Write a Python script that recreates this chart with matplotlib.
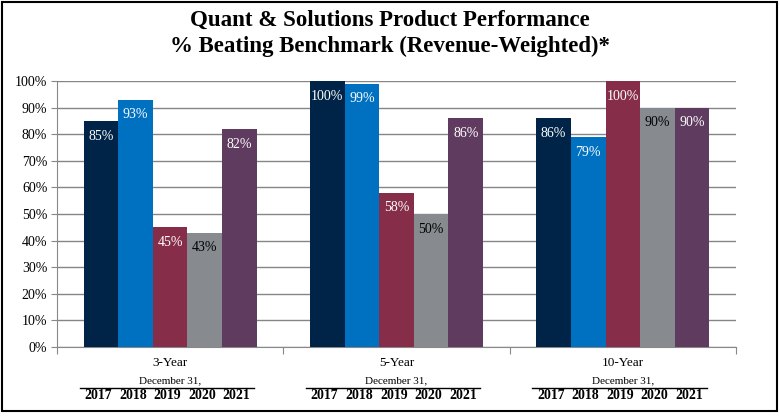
import numpy as np
import matplotlib
matplotlib.use("Agg")
import matplotlib.pyplot as plt
from matplotlib.patches import Rectangle
from matplotlib.lines import Line2D

# data
periods = ["3-Year", "5-Year", "10-Year"]
years = ["2017", "2018", "2019", "2020", "2021"]
pct_2017 = [85, 100, 86]
pct_2018 = [93, 99, 79]
pct_2019 = [45, 58, 100]
pct_2020 = [43, 50, 90]
pct_2021 = [82, 86, 90]
series = [pct_2017, pct_2018, pct_2019, pct_2020, pct_2021]

colors = ["#002448", "#0070C0", "#862D4A", "#878B8F", "#5F3B5F"]
label_colors = ["white", "white", "white", "black", "white"]

plt.rcParams["font.family"] = ["Liberation Serif", "DejaVu Serif"]

fig = plt.figure(figsize=(7.8, 4.16), dpi=100)
ax = fig.add_axes([57 / 780, 1 - 347 / 416, 679 / 780, 266 / 416])

bw = 0.153
x = np.arange(len(periods))
for i, vals in enumerate(series):
    xs = x + (i - 2) * bw
    ax.bar(xs, vals, width=bw, color=colors[i], zorder=3)
    for xx, v in zip(xs, vals):
        ax.annotate(f"{v}%", (xx, v), xytext=(0, -11), textcoords="offset points",
                    ha="center", va="center", color=label_colors[i], fontsize=10, zorder=4)
    for xx in xs:
        ax.text(xx - 0.012, -0.184, years[i], transform=ax.get_xaxis_transform(),
                ha="center", va="center", fontsize=10, fontweight="bold")

ax.set_xlim(-0.5, 2.5)
ax.set_ylim(0, 100)
ax.set_yticks(np.arange(0, 101, 10))
ax.set_yticklabels([f"{t}%" for t in range(0, 101, 10)], fontsize=10)
ax.set_xticks([-0.5, 0.5, 1.5, 2.5])
ax.set_xticklabels([])
ax.tick_params(axis="x", direction="out", length=5, color="#888888")
ax.tick_params(axis="y", direction="out", length=4, color="#888888", pad=3)
ax.grid(axis="y", color="#858585", linewidth=1, zorder=0)
for s in ["top", "right"]:
    ax.spines[s].set_visible(False)
ax.spines["left"].set_color("#888888")
ax.spines["bottom"].set_color("#888888")

for i, p in enumerate(periods):
    ax.text(i, -0.062, p, transform=ax.get_xaxis_transform(), ha="center", va="center", fontsize=9.5)
    ax.text(i, -0.128, "December 31,", transform=ax.get_xaxis_transform(), ha="center",
            va="center", fontsize=8)
    ax.add_line(Line2D([i - 0.4, i + 0.37], [-0.154, -0.154], transform=ax.get_xaxis_transform(),
                       color="black", linewidth=1, clip_on=False))

fig.text(0.5, 1 - 20 / 416, "Quant & Solutions Product Performance", ha="center", va="center",
         fontsize=16.5, fontweight="bold")
fig.text(0.5, 1 - 46 / 416, "% Beating Benchmark (Revenue-Weighted)*", ha="center", va="center",
         fontsize=16.5, fontweight="bold")

fig.patches.append(Rectangle((2 / 780, 1 - 411 / 416), 775 / 780, 409 / 416, transform=fig.transFigure,
                             fill=False, edgecolor="black", linewidth=1.5))

fig.savefig("out.png", dpi=100)
